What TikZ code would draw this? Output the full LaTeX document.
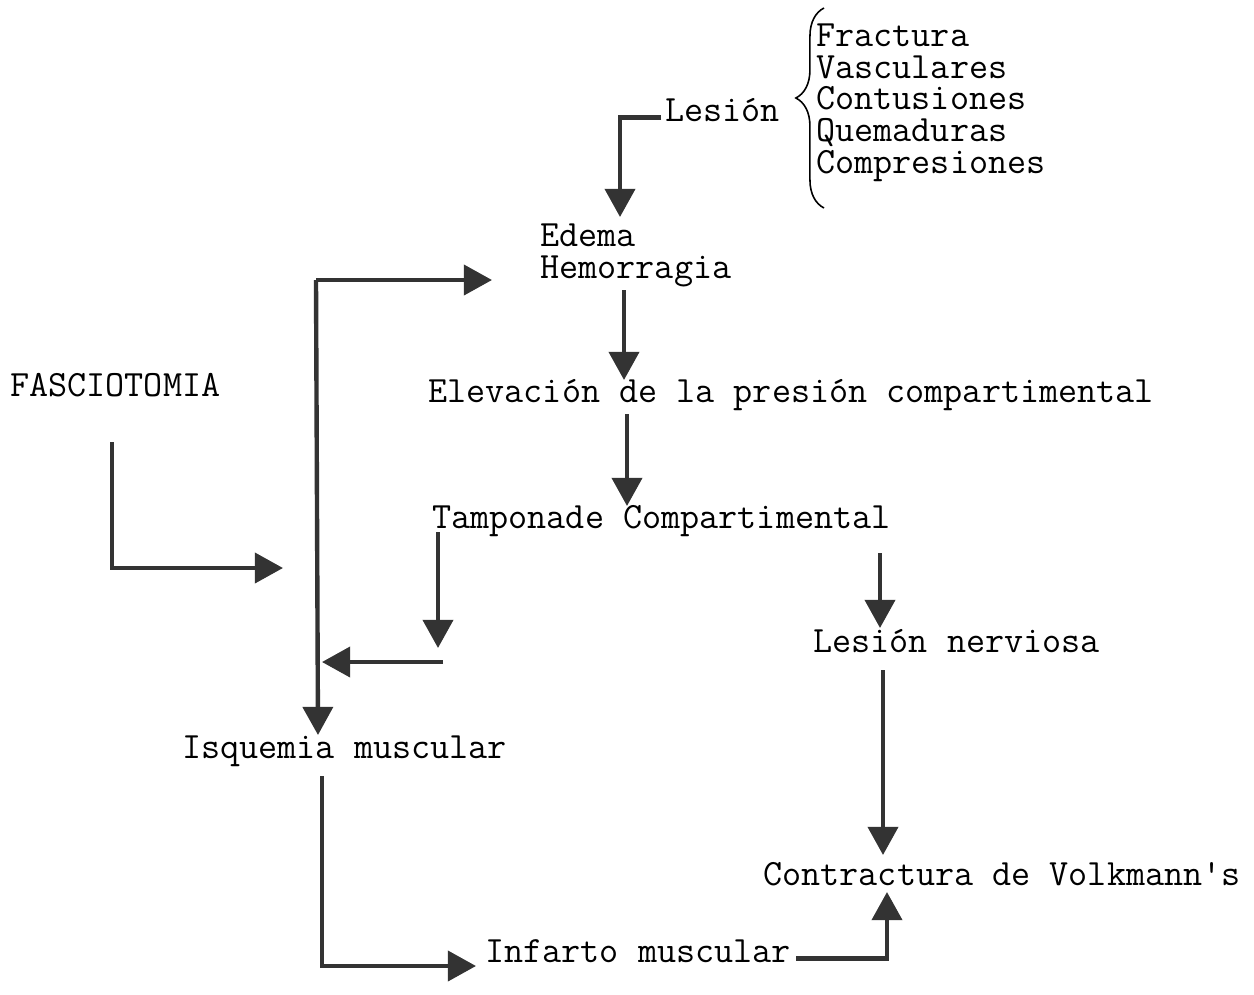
\documentclass[tikz,border=0pt]{standalone}
\usepackage{fontspec}
\usetikzlibrary{arrows.meta,decorations.pathreplacing}
\begin{document}
\begin{tikzpicture}[x=0.02cm, y=-0.02cm,
					every node/.style={font=\ttfamily\fontsize{21.1}{18}\selectfont, inner sep=0pt, anchor=base west},
					flow/.style={draw=black!80, line width=2.5pt, -{Triangle[width=17pt,length=16pt]}},
					brace/.style={decorate, decoration={brace, mirror, amplitude=16pt, aspect=0.45}, line width=0.9pt}]
	\useasboundingbox (0,0) rectangle (1254,994);
	% textos
	\node (lesion) at (665,121) {Lesión};
	\node [align=left] (causas) at (816,173) {Fractura\\Vasculares\\Contusiones\\Quemaduras\\Compresiones};
	\node [align=left] (edema) at (540,278) {Edema\\Hemorragia};
	\node (fascio) at (10,396) {FASCIOTOMIA};
	\node (elev) at (428,402) {Elevación de la presión compartimental};
	\node (tamp) at (432,528) {Tamponade Compartimental};
	\node (nerv) at (813,652) {Lesión nerviosa};
	\node (isq) at (182,758) {Isquemia muscular};
	\node (contr) at (763,885) {Contractura de Volkmann's};
	\node (infarto) at (485,962) {Infarto muscular};
	% llave
	\draw [brace] (824,8) -- (824,208);
	% puntos de paso
	\coordinate (trunk) at (316,280);
	\coordinate (fasck) at (112,568);
	\coordinate (isqk) at (322,966);
	\coordinate (tampk) at (443,662);
	% flechas
	\draw [flow] ([xshift=-2pt,yshift=2pt]lesion.base west) -| (620,217);
	\draw [flow] (trunk) -- (492,280);
	\draw [flow] (trunk) -- (318,735);
	\draw [flow] (624,290) -- (624,380);
	\draw [flow] (627,414) -- (627,506);
	\draw [flow] (112,442) -- (fasck) -- (283,568);
	\draw [flow] (438,532) -- (438,648);
	\draw [flow] (tampk) -- (322,662);
	\draw [flow] (880,553) -- (880,628);
	\draw [flow] (883,670) -- (883,855);
	\draw [flow] (322,776) -- (isqk) -- (476,966);
	\draw [flow] ([xshift=3pt,yshift=2pt]infarto.base east) -| (887,892);
\end{tikzpicture}
\end{document}
